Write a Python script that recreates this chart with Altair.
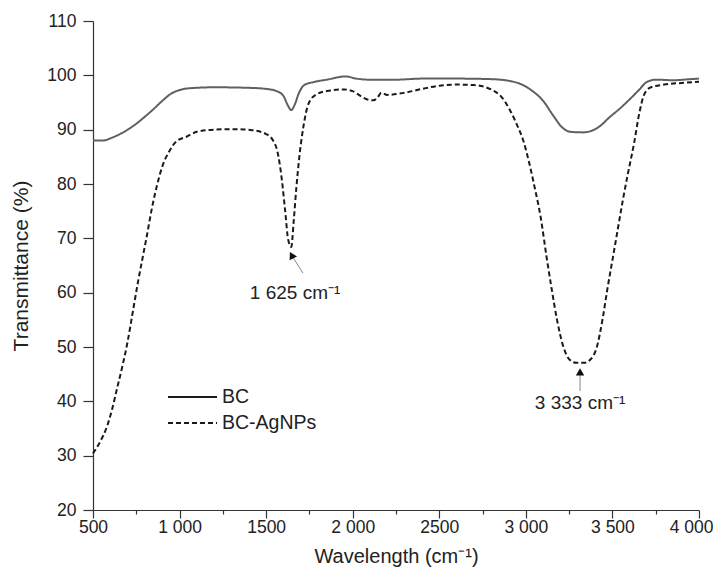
import altair as alt
import pandas as pd

# ---- data ----
bc_x = [500, 560, 600, 650, 700, 750, 800, 850, 900, 950, 1000, 1050, 1200, 1400, 1500,
        1560, 1600, 1625, 1645, 1665, 1690, 1720, 1780, 1850, 1960, 2020, 2100, 2250,
        2400, 2600, 2800, 2900, 2970, 3030, 3100, 3160, 3210, 3260, 3330, 3380, 3430,
        3480, 3540, 3600, 3650, 3700, 3750, 3850, 3950, 4000]
bc_y = [88.0, 88.0, 88.4, 89.1, 90.0, 91.1, 92.4, 93.8, 95.3, 96.6, 97.3, 97.6, 97.8, 97.7, 97.5,
        97.1, 96.2, 94.5, 93.6, 94.6, 96.8, 98.2, 98.8, 99.2, 99.8, 99.4, 99.2, 99.2,
        99.4, 99.4, 99.3, 99.0, 98.4, 97.3, 95.3, 92.5, 90.4, 89.6, 89.5, 89.8, 90.7,
        92.2, 93.8, 95.6, 97.2, 98.8, 99.2, 99.1, 99.3, 99.4]

ag_x = [500, 540, 580, 610, 640, 670, 700, 730, 760, 790, 810, 840, 870, 900, 940, 980,
        1040, 1100, 1200, 1300, 1420, 1500, 1540, 1565, 1590, 1610, 1627, 1645, 1660,
        1675, 1690, 1715, 1745, 1790, 1850, 1950, 2000, 2040, 2080, 2120, 2150, 2165,
        2200, 2300, 2400, 2500, 2600, 2700, 2800, 2860, 2910, 2950, 2985, 3020, 3050,
        3085, 3120, 3150, 3180, 3215, 3255, 3290, 3340, 3370, 3410, 3445, 3470, 3500,
        3530, 3560, 3590, 3625, 3655, 3680, 3715, 3800, 3900, 4000]
ag_y = [30.4, 32.5, 35.3, 38.5, 42.5, 46.5, 51.0, 56.5, 62.0, 67.0, 70.3, 75.5, 79.8, 83.2, 86.0, 87.8,
        88.7, 89.6, 90.0, 90.1, 89.9, 89.2, 88.0, 86.0, 81.0, 75.0, 69.8, 68.4, 73.5,
        79.5, 84.5, 90.5, 94.8, 96.5, 97.1, 97.4, 97.1, 96.3, 95.6, 95.4, 96.2, 96.8,
        96.4, 96.8, 97.5, 98.1, 98.3, 98.2, 97.4, 96.0, 93.5, 90.8, 88.0, 83.8, 79.5,
        74.0, 66.5, 60.5, 55.0, 50.2, 47.6, 47.1, 47.1, 47.6, 50.0, 55.5, 60.5, 66.0,
        71.5, 77.0, 82.0, 87.5, 93.0, 96.2, 97.7, 98.3, 98.6, 98.8]

series_names = ["BC", "BC-AgNPs"]
series_colors = ["#5e615e", "#1a1a1a"]
series_dash = [[1, 0], [5, 3]]

x_major = [500, 1000, 1500, 2000, 2500, 3000, 3500, 4000]
x_major_labels = ["500", "1 000", "1500", "2 000", "2500", "3 000", "3 500", "4 000"]
x_minor = [750, 1250, 1750, 2250, 2750, 3250, 3750]
y_ticks = [20, 30, 40, 50, 60, 70, 80, 90, 100, 110]

peak_labels = ["1 625 cm\u207b\u00b9", "3 333 cm\u207b\u00b9"]
peak_label_x = [1667, 3313]
peak_label_y = [59.9, 39.7]
arrow_tail_x = [1713, 3313]
arrow_tail_y = [63.6, 41.9]
arrow_head_x = [1647, 3313]
arrow_head_y = [66.9, 45.4]
arrow_angle = [332, 0]

# ---- tables ----
curves = pd.concat([
    pd.DataFrame({"x": bc_x, "y": bc_y, "s": series_names[0]}),
    pd.DataFrame({"x": ag_x, "y": ag_y, "s": series_names[1]}),
])
ann = pd.DataFrame({
    "label": peak_labels, "lx": peak_label_x, "ly": peak_label_y,
    "tx": arrow_tail_x, "ty": arrow_tail_y, "hx": arrow_head_x, "hy": arrow_head_y,
    "ang": arrow_angle,
})

label_expr = "''"
for v, l in reversed(list(zip(x_major, x_major_labels))):
    label_expr = f"datum.value == {v} ? '{l}' : ({label_expr})"

FONT = "Liberation Sans"

x_scale = alt.Scale(domain=[500, 4000], nice=False, zero=False)
y_scale = alt.Scale(domain=[20, 110], nice=False, zero=False)

x_axis = alt.Axis(
    title="Wavelength (cm\u207b\u00b9)",
    values=sorted(x_major + x_minor),
    labelExpr=label_expr,
    labelFlush=False,
    labelAlign={"condition": {"test": f"datum.value === {x_major[-1]}", "value": "right"}, "value": "center"},
    labelOffset={"condition": {"test": f"datum.value === {x_major[-1]}", "value": 14}, "value": 0},
    tickSize={"condition": {"test": "datum.value % 500 === 0", "value": 8}, "value": 4},
    labelPadding=0,
    titlePadding=11,
    titleFontSize=20,
)
y_axis = alt.Axis(
    title="Transmittance (%)",
    values=y_ticks,
    tickSize=10,
    labelPadding=7,
    titlePadding=15,
    titleFontSize=21,
)

lines = alt.Chart(curves).mark_line(interpolate="monotone").encode(
    x=alt.X("x:Q", scale=x_scale, axis=x_axis),
    y=alt.Y("y:Q", scale=y_scale, axis=y_axis),
    color=alt.Color("s:N", scale=alt.Scale(domain=series_names, range=series_colors), legend=None),
    strokeDash=alt.StrokeDash("s:N", scale=alt.Scale(domain=series_names, range=series_dash),
                              legend=None),
    strokeWidth=alt.value(2),
)

rules = alt.Chart(ann).mark_rule(color="#888", strokeWidth=1).encode(
    x="tx:Q", y="ty:Q", x2="hx:Q", y2="hy:Q"
)
heads = alt.Chart(ann).mark_point(shape="triangle-up", filled=True, color="#111", size=70, opacity=1).encode(
    x="hx:Q", y="hy:Q", angle=alt.Angle("ang:Q", scale=None)
)
texts = alt.Chart(ann).mark_text(font=FONT, fontSize=19, color="#222").encode(
    x="lx:Q", y="ly:Q", text="label:N"
)

# hand-placed legend (pixel positions inside the plot area)
legend_layers = []
for i, name in enumerate(series_names):
    row = pd.DataFrame({"s": [name]})
    ly = 376 + 26 * i
    legend_layers.append(
        alt.Chart(row).mark_rule(color="#1a1a1a", strokeWidth=2, strokeDash=series_dash[i]).encode(
            x=alt.value(75), x2=alt.value(124), y=alt.value(ly)
        )
    )
    legend_layers.append(
        alt.Chart(row).mark_text(font=FONT, fontSize=19.5, color="#222", align="left",
                                 baseline="middle").encode(
            x=alt.value(129), y=alt.value(ly), text="s:N"
        )
    )

chart = alt.layer(lines, rules, heads, texts, *legend_layers).properties(
    width=606, height=489,
    autosize=alt.AutoSizeParams(type="none"),
    padding={"left": 85, "top": 13, "right": 14, "bottom": 60},
).configure_view(stroke=None).configure_axis(
    grid=False, domainColor="#333", tickColor="#333", labelColor="#222",
    labelFont=FONT, labelFontSize=17.5, titleFont=FONT,
    titleFontWeight="normal", titleColor="#222", domainWidth=1.2, tickWidth=1.2,
)

chart.save("out.html", embed_options={"renderer": "svg", "actions": False})
